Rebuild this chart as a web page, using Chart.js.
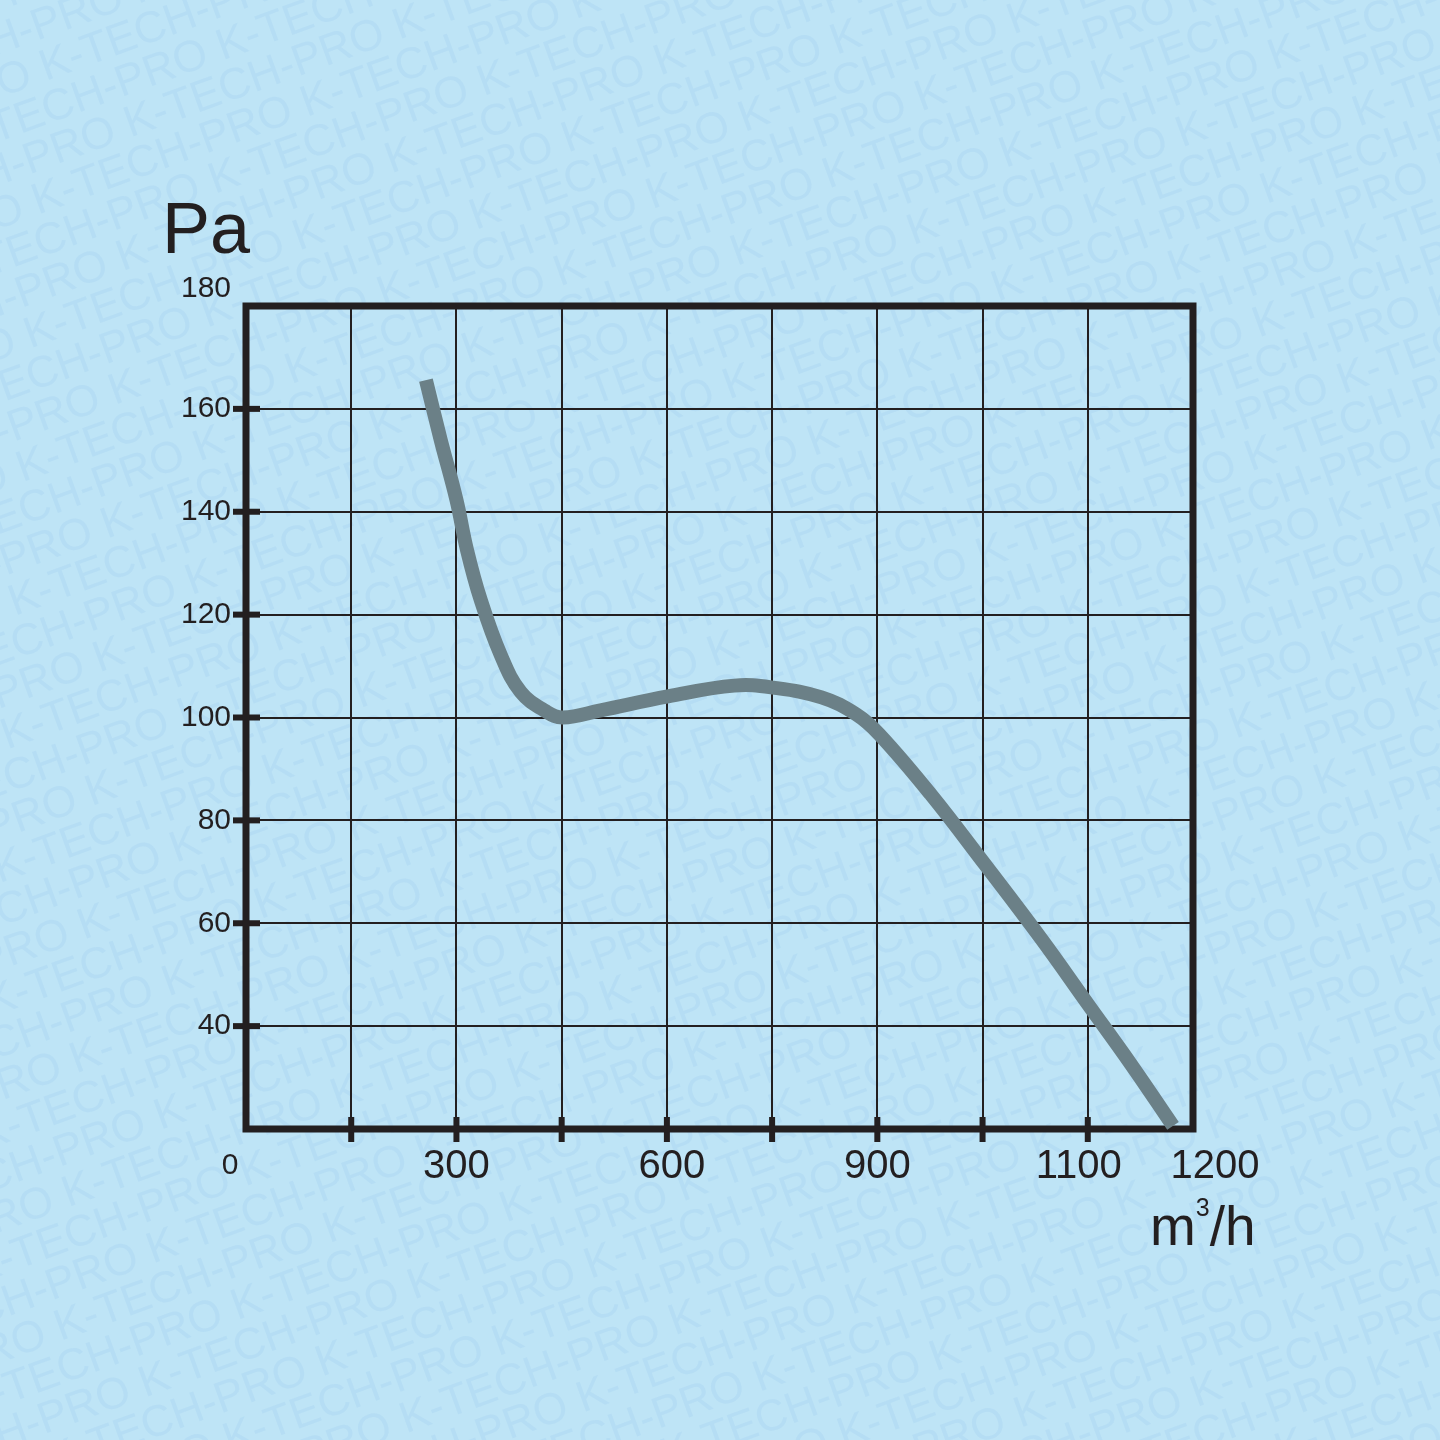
<!DOCTYPE html>
<html>
<head>
<meta charset="utf-8">
<script src="https://cdn.jsdelivr.net/npm/chart.js@4/dist/chart.umd.min.js"></script>
<style>
  html, body { margin: 0; padding: 0; background: #bee4f6; }
  #wrap { width: 1440px; height: 1440px; }
</style>
</head>
<body>
<div id="wrap"><canvas id="c" width="1440" height="1440"></canvas></div>
<script>
// ---- data (x = grid position along the flow axis, y = pressure in Pa) ----
const flowPos  = [1.71, 1.85, 2.00, 2.10, 2.23, 2.42, 2.61, 2.85, 3.01, 3.37, 4.01, 4.64, 5.01, 5.47, 5.80, 6.02, 6.51, 7.02, 7.56, 8.00, 8.41, 8.81];
const pressure = [165.6, 154.0, 142.3, 132.6, 122.9, 112.2, 105.0, 101.2, 100.0, 101.4, 104.1, 106.2, 105.8, 103.9, 100.6, 96.7, 85.0, 71.5, 56.9, 44.3, 32.6, 20.6];

// axis tick labels
const xTickPos    = [2, 4, 6, 8, 9];
const xTickLabels = ['300', '600', '900', '1100', '1200'];
const yTickValues = [40, 60, 80, 100, 120, 140, 160, 180];
const originLabel = '0';
const yTitle = 'Pa';
const xTitle = ['m', '3', '/h'];
const watermark = 'K-TECH-PRO';

const INK = '#231f20';
const FONT = '"Liberation Sans", Arial, Helvetica, sans-serif';

const points = flowPos.map((x, i) => ({ x: x, y: pressure[i] }));

const bgPlugin = {
  id: 'bg',
  beforeDraw(chart) {
    const ctx = chart.ctx;
    ctx.save();
    ctx.fillStyle = '#bee4f6';
    ctx.fillRect(0, 0, chart.width, chart.height);
    // watermark
    ctx.translate(720, 720);
    ctx.rotate(-20 * Math.PI / 180);
    ctx.fillStyle = 'rgba(120, 175, 230, 0.13)';
    ctx.font = '44px ' + FONT;
    ctx.textBaseline = 'alphabetic';
    const unit = watermark + ' ';
    const w = ctx.measureText(unit).width;
    let row = 0;
    for (let y = -1200; y <= 1200; y += 41) {
      const off = ((row * 113) % w);
      for (let x = -1400 - off; x <= 1400; x += w) {
        ctx.fillText(unit, x, y);
      }
      row++;
    }
    ctx.restore();
  },
  beforeDatasetsDraw(chart) {
    const ctx = chart.ctx;
    const a = chart.chartArea;
    const xs = chart.scales.x, ys = chart.scales.y;
    ctx.save();
    ctx.fillStyle = INK;
    // bottom tick marks on interior vertical grid lines
    for (let i = 1; i <= 8; i++) {
      const px = xs.getPixelForValue(i);
      ctx.fillRect(px - 3, a.bottom - 12, 6, 25);
    }
    // left tick marks
    for (let v = 40; v <= 160; v += 20) {
      const py = ys.getPixelForValue(v);
      ctx.fillRect(a.left - 13, py - 3, 27, 6);
    }
    // frame
    ctx.strokeStyle = INK;
    ctx.lineWidth = 7;
    ctx.lineJoin = 'miter';
    ctx.strokeRect(a.left, a.top, a.right - a.left, a.bottom - a.top);
    ctx.restore();
  },
  afterDraw(chart) {
    const ctx = chart.ctx;
    const a = chart.chartArea;
    const xs = chart.scales.x, ys = chart.scales.y;
    ctx.save();
    ctx.fillStyle = INK;
    // y labels
    ctx.font = '30px ' + FONT;
    ctx.textAlign = 'right';
    ctx.textBaseline = 'middle';
    yTickValues.forEach(v => {
      let py = ys.getPixelForValue(v);
      if (v === 180) py -= 17;
      ctx.fillText(String(v), a.left - 15, py);
    });
    // origin label
    ctx.textAlign = 'center';
    ctx.fillText(originLabel, a.left - 16, a.bottom + 37);
    // x labels
    ctx.font = '40px ' + FONT;
    const dx = { '600': 5, '1100': -9, '1200': 22 };
    xTickPos.forEach((p, i) => {
      const lbl = xTickLabels[i];
      ctx.fillText(lbl, xs.getPixelForValue(p) + (dx[lbl] || 0), a.bottom + 38);
    });
    // axis titles
    ctx.textAlign = 'left';
    ctx.textBaseline = 'alphabetic';
    ctx.font = '72px ' + FONT;
    ctx.fillText(yTitle, 162, 253);
    ctx.font = '55px ' + FONT;
    let x = 1150;
    ctx.fillText(xTitle[0], x, 1245);
    x += ctx.measureText(xTitle[0]).width;
    ctx.font = '25px ' + FONT;
    ctx.fillText(xTitle[1], x, 1216);
    x += ctx.measureText(xTitle[1]).width;
    ctx.font = '55px ' + FONT;
    ctx.fillText(xTitle[2], x, 1245);
    ctx.restore();
  }
};

new Chart(document.getElementById('c'), {
  type: 'scatter',
  data: {
    datasets: [{
      data: points,
      showLine: true,
      borderColor: '#6b8087',
      borderWidth: 14,
      borderCapStyle: 'butt',
      borderJoinStyle: 'round',
      pointRadius: 0,
      pointHoverRadius: 0,
      tension: 0.4,
      clip: false
    }]
  },
  options: {
    responsive: false,
    animation: false,
    events: [],
    layout: { padding: { left: 246, right: 247, top: 306, bottom: 311 } },
    plugins: { legend: { display: false }, tooltip: { enabled: false }, title: { display: false } },
    scales: {
      x: {
        type: 'linear', min: 0, max: 9,
        ticks: { display: false, stepSize: 1 },
        grid: { color: INK, lineWidth: 2, drawTicks: false },
        border: { display: false }
      },
      y: {
        type: 'linear', min: 20, max: 180,
        ticks: { display: false, stepSize: 20 },
        grid: { color: INK, lineWidth: 2, drawTicks: false },
        border: { display: false }
      }
    }
  },
  plugins: [bgPlugin]
});
</script>
</body>
</html>
